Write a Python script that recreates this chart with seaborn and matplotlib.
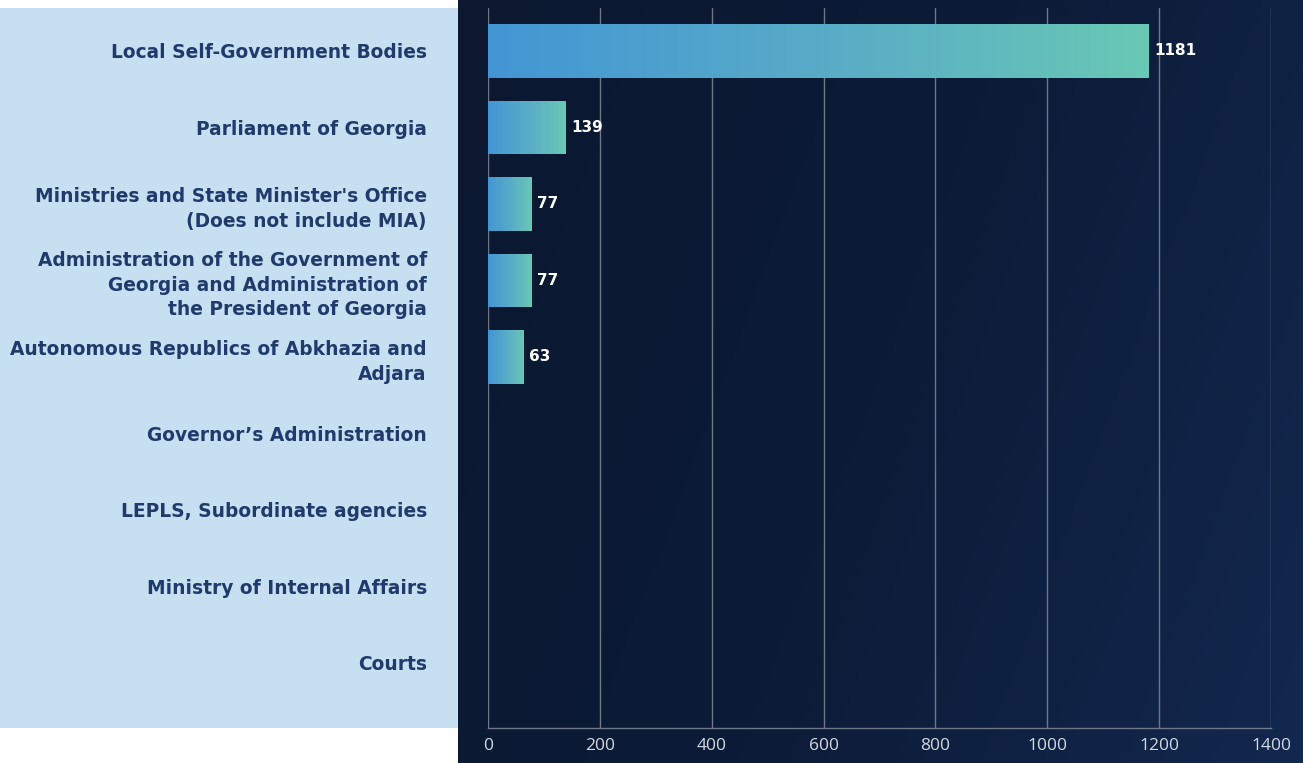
import numpy as np
import pandas as pd
import seaborn as sns
import matplotlib.pyplot as plt
from matplotlib.colors import LinearSegmentedColormap
from matplotlib.patches import Rectangle

sns.set_theme(style='white')

# chart data
categories = [
    'Local Self-Government Bodies',
    'Parliament of Georgia',
    "Ministries and State Minister's Office\n(Does not include MIA)",
    'Administration of the Government of\nGeorgia and Administration of\nthe President of Georgia',
    'Autonomous Republics of Abkhazia and\nAdjara',
    'Governor\u2019s Administration',
    'LEPLS, Subordinate agencies',
    'Ministry of Internal Affairs',
    'Courts',
]
counts = [1181, 139, 77, 77, 63, 0, 0, 0, 0]
x_ticks = [0, 200, 400, 600, 800, 1000, 1200, 1400]

df = pd.DataFrame({'category': categories, 'count': counts})

W, H = 1303, 763
fig = plt.figure(figsize=(W / 100, H / 100), dpi=100)
fig.patch.set_facecolor('white')

# light panel behind the labels
fig.patches.append(Rectangle((0, 35 / H), 458 / W, 720 / H, transform=fig.transFigure,
                             facecolor='#c6dff1', edgecolor='none', zorder=-2))

# dark diagonal gradient panel
bg = fig.add_axes([458 / W, 0, 1 - 458 / W, 1], zorder=-1)
gx, gy = np.meshgrid(np.linspace(0, 1, 200), np.linspace(0, 1, 200))
diag = (gx * 0.75 + gy * 0.25)
bg_cmap = LinearSegmentedColormap.from_list('bg', ['#0b1830', '#0c1b37', '#13284f'])
bg.imshow(diag, cmap=bg_cmap, aspect='auto', origin='upper', extent=[0, 1, 0, 1])
bg.set_axis_off()

ax = fig.add_axes([488 / W, 35 / H, (1271 - 488) / W, 720 / H])
ax.set_facecolor('none')

sns.barplot(data=df, y='category', x='count', orient='h', width=0.7,
            color='#4499d6', linewidth=0, ax=ax, zorder=3)

ax.set_xlim(0, 1400)
ax.set_ylim(8.85, -0.56)

# horizontal gradient inside each bar
bar_cmap = LinearSegmentedColormap.from_list('bar', ['#4396d4', '#58abc7', '#69c8b5'])
grad = np.linspace(0, 1, 256).reshape(1, -1)
for p in ax.patches:
    p.set_edgecolor('none')
    bb = p.get_bbox()
    if bb.width <= 0:
        continue
    im = ax.imshow(grad, cmap=bar_cmap, aspect='auto',
                   extent=[bb.x0, bb.x1, bb.y1, bb.y0], zorder=3)
    im.set_clip_path(p)
    p.set_facecolor('none')
ax.set_xlim(0, 1400)
ax.set_ylim(8.85, -0.56)

labels = [str(v) if v > 0 else '' for v in counts]
ax.bar_label(ax.containers[0], labels=labels, padding=4, color='white',
             fontweight='bold', fontsize=11, family='DejaVu Sans')

ax.set_xticks(x_ticks)
ax.grid(axis='x', color='#6f7686', linewidth=1, zorder=0)
ax.grid(axis='y', visible=False)
ax.set_axisbelow(True)
for side in ['top', 'right', 'left']:
    ax.spines[side].set_visible(False)
ax.spines['bottom'].set_color('#6f7686')
ax.spines['bottom'].set_linewidth(1)

ax.set_xlabel('')
ax.set_ylabel('')
ax.tick_params(axis='x', length=0, pad=7, labelcolor='#d3d9e2', labelsize=12.5)
ax.tick_params(axis='y', length=0, pad=44, labelcolor='#1f3a6b', labelsize=13.4)
for t in ax.get_xticklabels():
    t.set_family('Open Sans')
for t in ax.get_yticklabels():
    t.set_family('DejaVu Sans')
    t.set_fontweight('bold')
    t.set_linespacing(1.38)
    t.set_horizontalalignment('right')

fig.savefig('out.png', dpi=100)
